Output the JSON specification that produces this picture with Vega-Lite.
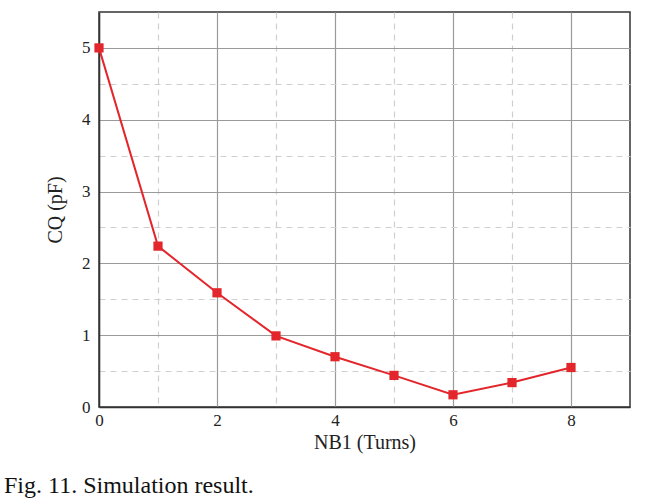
{
  "$schema": "https://vega.github.io/schema/vega-lite/v6.json",
  "autosize": {"type": "none"},
  "padding": {"left": 99, "top": 12, "right": 20, "bottom": 92},
  "width": 531,
  "height": 395,
  "background": "white",
  "config": {
    "font": "Liberation Serif",
    "view": {"stroke": "#333", "strokeWidth": 1.5},
    "axis": {"labelFont": "Liberation Serif", "titleFont": "Liberation Serif", "labelFontSize": 17, "titleFontSize": 20, "labelColor": "#222", "titleColor": "#222", "titleFontWeight": "normal", "domainColor": "#333", "domainWidth": 1.5, "ticks": false, "labelFlush": false}
  },
  "title": {"text": "Fig. 11. Simulation result.", "orient": "bottom", "anchor": "start", "frame": "group", "dx": -95, "offset": 22, "fontSize": 24, "fontWeight": "normal", "font": "Liberation Serif", "color": "#111"},
  "data": {"values": [
    {"n": 0, "c": 5.0},
    {"n": 1, "c": 2.24},
    {"n": 2, "c": 1.59},
    {"n": 3, "c": 0.99},
    {"n": 4, "c": 0.70},
    {"n": 5, "c": 0.44},
    {"n": 6, "c": 0.17},
    {"n": 7, "c": 0.34},
    {"n": 8, "c": 0.55}
  ]},
  "encoding": {
    "x": {"field": "n", "type": "quantitative", "scale": {"domain": [0, 9], "nice": false},
      "axis": {"title": "NB1 (Turns)", "values": [0,1,2,3,4,5,6,7,8], "labelExpr": "datum.value % 2 === 0 ? format(datum.value, 'd') : ''", "labelPadding": 5, "titlePadding": 4,
        "gridColor": {"condition": {"test": "datum.value % 2 === 1", "value": "#cfcfcf"}, "value": "#9a9a9a"},
        "gridDash": {"condition": {"test": "datum.value % 2 === 1", "value": [6, 5]}, "value": []},
        "gridWidth": 1.2}},
    "y": {"field": "c", "type": "quantitative", "scale": {"domain": [0, 5.5], "nice": false},
      "axis": {"title": "CQ (pF)", "values": [0,0.5,1,1.5,2,2.5,3,3.5,4,4.5,5], "labelExpr": "datum.value % 1 === 0 ? format(datum.value, 'd') : ''", "labelPadding": 9, "titlePadding": 16,
        "gridColor": {"condition": {"test": "datum.value % 1 !== 0", "value": "#cfcfcf"}, "value": "#9a9a9a"},
        "gridDash": {"condition": {"test": "datum.value % 1 !== 0", "value": [6, 5]}, "value": []},
        "gridWidth": 1.2}}
  },
  "layer": [
    {"mark": {"type": "line", "color": "#e3262b", "strokeWidth": 2}},
    {"mark": {"type": "point", "shape": "square", "filled": true, "color": "#e3262b", "size": 85, "opacity": 1}}
  ]
}
